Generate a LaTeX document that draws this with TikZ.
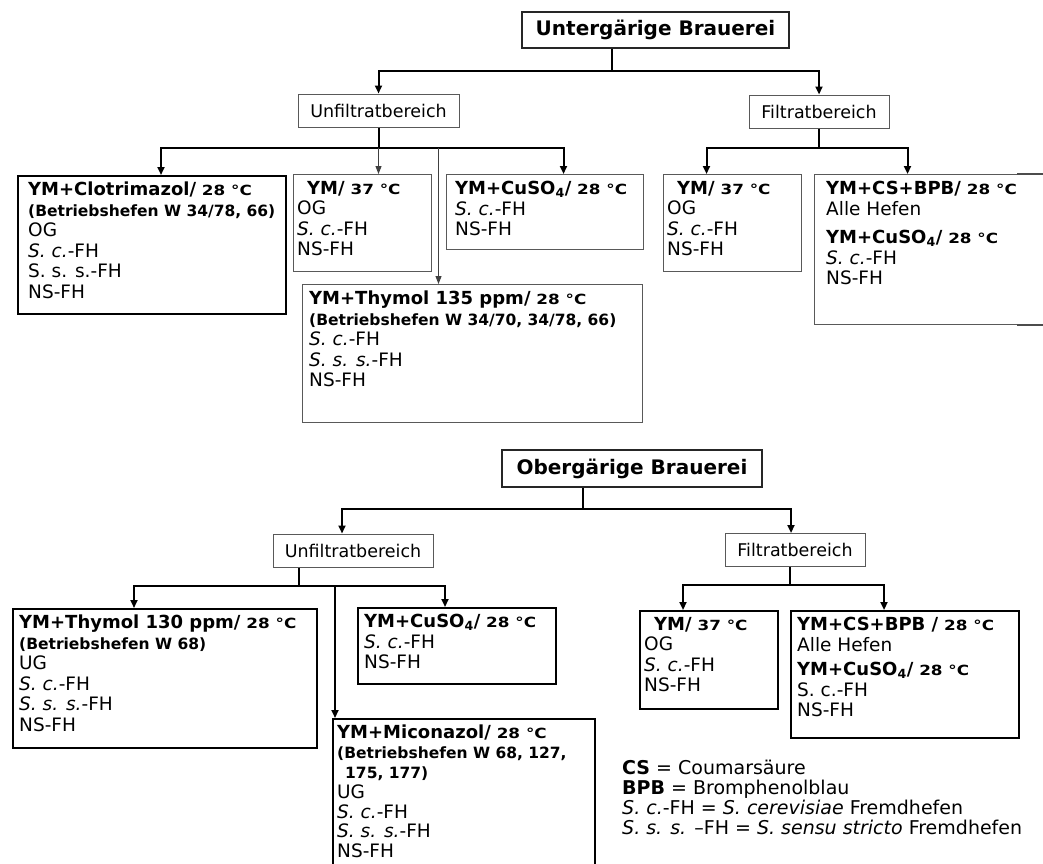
\documentclass[tikz,border=0pt]{standalone}
\usepackage{fontspec}
\setmainfont{DejaVu Sans}
\usepackage{graphicx}
\usepackage{tikz}
\usetikzlibrary{arrows.meta}
\tikzset{
  titel/.style={draw=black!85,line width=1.4pt,inner sep=0pt,
    font=\fontsize{20}{24}\selectfont\bfseries},
  bereich/.style={draw=black!65,line width=1pt,inner sep=0pt,minimum height=33pt,
    font=\fontsize{17.5}{20}\selectfont},
  kasten/.style={draw=black!65,line width=1pt,anchor=north west,inner sep=0pt},
  kastenb/.style={draw=black,line width=2pt,anchor=north west,inner sep=0pt},
  inhalt/.style={anchor=north west,align=left,inner xsep=7pt,inner ysep=7pt,
    font=\fontsize{18.5}{20.5}\selectfont},
  ln/.style={line width=2pt},
  ar/.style={-{Triangle[length=8pt,width=7pt]},line width=2pt},
  arn/.style={-{Triangle[length=8pt,width=6pt]},line width=1pt,draw=black!75},
}
\newcommand{\hd}[1]{{\fontsize{18}{20}\selectfont\bfseries #1}}
\newcommand{\bh}[1]{{\fontsize{15.5}{18}\selectfont\bfseries #1}}
\newcommand{\degC}[1]{\scalebox{1.2}[1]{\fontsize{14}{16}\selectfont\bfseries #1 °C}}
\newcommand{\Sc}{\textit{S. c.}-FH}
\newcommand{\Sss}{\textit{S. s. s.}-FH}

\begin{document}
\begin{tikzpicture}[x=1pt,y=-1pt]
  \useasboundingbox (0,0) rectangle (1043,863);
  \clip (0,0) rectangle (1043,863);

  % untergaerig
  \node[titel,minimum width=267pt,minimum height=36pt] (ug) at (655.5,30) {Untergärige Brauerei};
  \node[bereich,minimum width=161pt] (ugu) at (378.5,110.5) {Unfiltratbereich};
  \node[bereich,minimum width=140pt] (ugf) at (819,111.5) {Filtratbereich};

  \node[kastenb,minimum width=268pt,minimum height=138pt] (clo) at (17,175) {};
  \node[inhalt,xshift=4pt] (clo-t) at (clo.north west) {\hd{YM+Clotrimazol/} \degC{28}\\
    \bh{(Betriebshefen W 34/78, 66)}\\ OG\\ \Sc\\ S. s. s.-FH\\ NS-FH};
  \node[kasten,minimum width=138pt,minimum height=97pt] (ym1) at (293,174) {};
  \node[inhalt,xshift=-3pt] (ym1-t) at (ym1.north west) {\hspace*{10pt}\hd{YM/} \degC{37}\\
    OG\\ \Sc\\ NS-FH};
  \node[kasten,minimum width=197pt,minimum height=75pt] (cu1) at (446,174) {};
  \node[inhalt,xshift=2pt] (cu1-t) at (cu1.north west) {\hd{YM+CuSO\textsubscript{4}/} \degC{28}\\
    \Sc\\ NS-FH};
  \node[kasten,minimum width=340pt,minimum height=138pt] (thy1) at (302,284) {};
  \node[inhalt] (thy1-t) at (thy1.north west) {\hd{YM+Thymol 135 ppm/} \degC{28}\\
    \bh{(Betriebshefen W 34/70, 34/78, 66)}\\ \Sc\\ \Sss\\ NS-FH};
  \node[kasten,minimum width=138pt,minimum height=97pt] (ym2) at (663,174) {};
  \node[inhalt,xshift=-3pt] (ym2-t) at (ym2.north west) {\hspace*{10pt}\hd{YM/} \degC{37}\\
    OG\\ \Sc\\ NS-FH};
  \node[kasten,minimum width=250pt,minimum height=150pt] (cs1) at (814,174) {};
  \node[inhalt,xshift=5pt] (cs1-t) at (cs1.north west) {\hd{YM+CS+BPB/} \degC{28}\\
    Alle Hefen\\[8pt] \hd{YM+CuSO\textsubscript{4}/} \degC{28}\\ \Sc\\ NS-FH};
  \draw[line width=2pt,black!70] ([xshift=203pt]cs1.north west) -- ++(40,0);
  \draw[line width=2pt,black!70] ([xshift=203pt]cs1.south west) -- ++(40,0);

  \draw[ln] ([xshift=-43.5pt]ug.south) -- ++(0,22) coordinate (ugbar);
  \draw[ar] (ugbar) -| (ugu.north);
  \draw[ar] (ugbar) -| (ugf.north);
  \draw[ln] (ugu.south) -- ++(0,20) coordinate (ugubar);
  \draw[ar] (ugubar) -| ([xshift=9pt]clo.north);
  \draw[ar] (ugubar) -| ([xshift=18.5pt]cu1.north);
  \draw[arn] (ugubar) -- (ugubar |- ym1.north);
  \draw[arn] ([xshift=-34pt]thy1.north |- ugubar) -- ([xshift=-34pt]thy1.north);
  \draw[ln] (ugf.south) -- ++(0,19) coordinate (ugfbar);
  \draw[ar] (ugfbar) -| ([xshift=-26pt]ym2.north);
  \draw[ar] (ugfbar) -| ([xshift=-32pt]cs1.north);

  % obergaerig
  \node[titel,minimum width=260pt,minimum height=37pt] (og) at (632,468.5) {Obergärige Brauerei};
  \node[bereich,minimum width=160pt] (ogu) at (353,550.5) {Unfiltratbereich};
  \node[bereich,minimum width=140pt] (ogf) at (795,550) {Filtratbereich};

  \node[kastenb,minimum width=304pt,minimum height=139pt] (thy2) at (12,608) {};
  \node[inhalt] (thy2-t) at (thy2.north west) {\hd{YM+Thymol 130 ppm/} \degC{28}\\
    \bh{(Betriebshefen W 68)}\\ UG\\ \Sc\\ \Sss\\ NS-FH};
  \node[kastenb,minimum width=198pt,minimum height=76pt] (cu2) at (357,607) {};
  \node[inhalt] (cu2-t) at (cu2.north west) {\hd{YM+CuSO\textsubscript{4}/} \degC{28}\\
    \Sc\\ NS-FH};
  \node[kastenb,minimum width=262pt,minimum height=170pt] (mic) at (332,718) {};
  \node[inhalt,xshift=-2pt,font=\fontsize{18.5}{19.8}\selectfont] (mic-t) at (mic.north west)
    {\hd{YM+Miconazol/} \degC{28}\\
    \bh{(Betriebshefen W 68, 127,}\\ \bh{\hspace*{8pt}175, 177)}\\ UG\\ \Sc\\ \Sss\\ NS-FH};
  \node[kastenb,minimum width=138pt,minimum height=98pt] (ym3) at (639,610) {};
  \node[inhalt,xshift=-2pt] (ym3-t) at (ym3.north west) {\hspace*{10pt}\hd{YM/} \degC{37}\\
    OG\\ \Sc\\ NS-FH};
  \node[kastenb,minimum width=228pt,minimum height=127pt] (cs2) at (790,610) {};
  \node[inhalt] (cs2-t) at (cs2.north west) {\hd{YM+CS+BPB /} \degC{28}\\
    Alle Hefen\\[4pt] \hd{YM+CuSO\textsubscript{4}/} \degC{28}\\ S. c.-FH\\ NS-FH};

  \draw[ln] ([xshift=-49pt]og.south) -- ++(0,21) coordinate (ogbar);
  \draw[ar] (ogbar) -| ([xshift=-11pt]ogu.north);
  \draw[ar] (ogbar) -| ([xshift=-4pt]ogf.north);
  \draw[ln] ([xshift=-54pt]ogu.south) -- ++(0,18) coordinate (ogubar);
  \draw[ar] (ogubar) -| ([xshift=-31pt]thy2.north);
  \draw[ar] (ogubar) -| ([xshift=-12pt]cu2.north);
  \draw[ar] (ogubar) -| ([xshift=3pt]mic.north west);
  \draw[ln] ([xshift=-5pt]ogf.south) -- ++(0,18) coordinate (ogfbar);
  \draw[ar] (ogfbar) -| ([xshift=-26pt]ym3.north);
  \draw[ar] (ogfbar) -| ([xshift=-21pt]cs2.north);

  \node[anchor=north west,align=left,inner sep=0pt,font=\fontsize{19}{20}\selectfont] (leg)
    at (622,760) {\textbf{CS} = Coumarsäure\\ \textbf{BPB} = Bromphenolblau\\
    \textit{S. c.}-FH = \textit{S. cerevisiae} Fremdhefen\\
    \textit{S. s. s.} –FH = \textit{S. sensu stricto} Fremdhefen};
\end{tikzpicture}
\end{document}
